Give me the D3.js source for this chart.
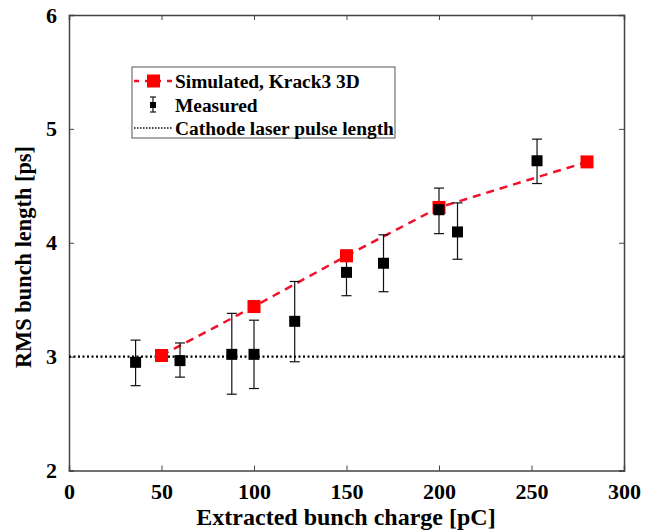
<html>
<head>
<script src="https://cdnjs.cloudflare.com/ajax/libs/d3/7.8.5/d3.min.js"></script>
<style>
  body { margin: 0; background: #fff; }
  text { font-family: "Liberation Serif", "Times New Roman", serif; font-weight: bold; }
</style>
</head>
<body>
<svg width="650" height="531"></svg>
<script>
// measured points with error bars
var measQ = [36, 60, 88, 100, 122, 150, 170, 200, 210, 253];
var measL = [2.95, 2.965, 3.02, 3.02, 3.31, 3.74, 3.82, 4.29, 4.095, 4.72];
var measLo = [2.745, 2.82, 2.67, 2.72, 2.955, 3.535, 3.57, 4.08, 3.855, 4.52];
var measHi = [3.145, 3.12, 3.38, 3.32, 3.66, 3.935, 4.07, 4.48, 4.35, 4.91];

// simulated
var simQ = [50, 100, 150, 200, 280];
var simL = [3.01, 3.44, 3.885, 4.31, 4.71];

var laserLen = 3;
var xTicks = [0, 50, 100, 150, 200, 250, 300];
var yTicks = [2, 3, 4, 5, 6];
var legendLabels = ["Simulated, Krack3 3D", "Measured", "Cathode laser pulse length"];

var svg = d3.select("svg");
var padL = 69, padR = 624, padT = 15, padB = 470.5;

var x = d3.scaleLinear().domain([0, 300]).range([padL, padR]);
var y = d3.scaleLinear().domain([2, 6]).range([padB, padT]);

var axisCol = "#444";

// axes: ticks inside, on all four sides
var g = svg.append("g");
g.append("g").attr("transform", "translate(0," + padB + ")")
  .call(d3.axisBottom(x).tickValues(xTicks).tickSize(-5).tickPadding(13));
g.append("g").attr("transform", "translate(0," + padT + ")")
  .call(d3.axisTop(x).tickValues(xTicks).tickSize(-5).tickFormat(""));
g.append("g").attr("transform", "translate(" + padL + ",0)")
  .call(d3.axisLeft(y).tickValues(yTicks).tickFormat(d3.format("d")).tickSize(-5).tickPadding(12));
g.append("g").attr("transform", "translate(" + padR + ",0)")
  .call(d3.axisRight(y).tickValues(yTicks).tickSize(-5).tickFormat(""));
g.selectAll(".domain").attr("stroke", axisCol).attr("stroke-width", 1.5);
g.selectAll(".tick line").attr("stroke", axisCol).attr("stroke-width", 1);
g.selectAll(".tick text").attr("font-size", 22).attr("fill", "#000")
  .style("font-family", "Liberation Serif").style("font-weight", "bold");

// dotted laser line
svg.append("line")
  .attr("x1", x(0)).attr("x2", x(300))
  .attr("y1", y(laserLen)).attr("y2", y(laserLen))
  .attr("stroke", "#000").attr("stroke-width", 2.2).attr("stroke-dasharray", "2,2.5");

// simulated line
var line = d3.line().x(function(d, i) { return x(simQ[i]); }).y(function(d) { return y(d); });
svg.append("path").datum(simL)
  .attr("d", line).attr("fill", "none")
  .attr("stroke", "#f0102a").attr("stroke-width", 2.5).attr("stroke-dasharray", "8,6");

// error bars
var eb = svg.append("g").attr("stroke", "#111").attr("stroke-width", 1.2);
measQ.forEach(function(q, i) {
  var cx = x(q);
  eb.append("line").attr("x1", cx).attr("x2", cx).attr("y1", y(measLo[i])).attr("y2", y(measHi[i]));
  eb.append("line").attr("x1", cx - 5).attr("x2", cx + 5).attr("y1", y(measLo[i])).attr("y2", y(measLo[i]));
  eb.append("line").attr("x1", cx - 5).attr("x2", cx + 5).attr("y1", y(measHi[i])).attr("y2", y(measHi[i]));
});

// simulated markers
var rs = 13;
svg.selectAll("rect.sim").data(simL).enter().append("rect").attr("class", "sim")
  .attr("x", function(d, i) { return x(simQ[i]) - rs / 2; })
  .attr("y", function(d) { return y(d) - rs / 2; })
  .attr("width", rs).attr("height", rs).attr("fill", "#ff0000");

// measured markers
var bs = 11;
svg.selectAll("rect.meas").data(measL).enter().append("rect").attr("class", "meas")
  .attr("x", function(d, i) { return x(measQ[i]) - bs / 2; })
  .attr("y", function(d) { return y(d) - bs / 2; })
  .attr("width", bs).attr("height", bs).attr("fill", "#000");

// legend
var lg = svg.append("g");
lg.append("rect").attr("x", 132).attr("y", 67).attr("width", 263).attr("height", 71)
  .attr("fill", "#fff").attr("stroke", "#555").attr("stroke-width", 1);
var rowY = [81, 105, 128];
lg.append("line").attr("x1", 134).attr("x2", 172).attr("y1", rowY[0]).attr("y2", rowY[0])
  .attr("stroke", "#f0102a").attr("stroke-width", 2.5).attr("stroke-dasharray", "5,6");
lg.append("rect").attr("x", 147).attr("y", rowY[0] - 6.5).attr("width", 13).attr("height", 13).attr("fill", "#ff0000");
lg.append("line").attr("x1", 153).attr("x2", 153).attr("y1", rowY[1] - 8).attr("y2", rowY[1] + 7)
  .attr("stroke", "#111").attr("stroke-width", 1.2);
lg.append("line").attr("x1", 150).attr("x2", 156).attr("y1", rowY[1] - 8).attr("y2", rowY[1] - 8)
  .attr("stroke", "#111").attr("stroke-width", 1.2);
lg.append("line").attr("x1", 150).attr("x2", 156).attr("y1", rowY[1] + 7).attr("y2", rowY[1] + 7)
  .attr("stroke", "#111").attr("stroke-width", 1.2);
lg.append("rect").attr("x", 150).attr("y", rowY[1] - 3).attr("width", 6).attr("height", 6).attr("fill", "#000");
lg.append("line").attr("x1", 134).attr("x2", 172).attr("y1", rowY[2]).attr("y2", rowY[2])
  .attr("stroke", "#000").attr("stroke-width", 1.5).attr("stroke-dasharray", "1.5,1.5");
legendLabels.forEach(function(t, i) {
  lg.append("text").attr("x", 175).attr("y", rowY[i]).attr("dy", "0.35em")
    .attr("font-size", 19.4).text(t);
});

// axis titles
svg.append("text").attr("x", 346).attr("y", 525)
  .attr("text-anchor", "middle").attr("font-size", 24).text("Extracted bunch charge [pC]");
svg.append("text").attr("transform", "translate(31,257) rotate(-90)")
  .attr("text-anchor", "middle").attr("font-size", 22.4).text("RMS bunch length [ps]");
</script>
</body>
</html>
